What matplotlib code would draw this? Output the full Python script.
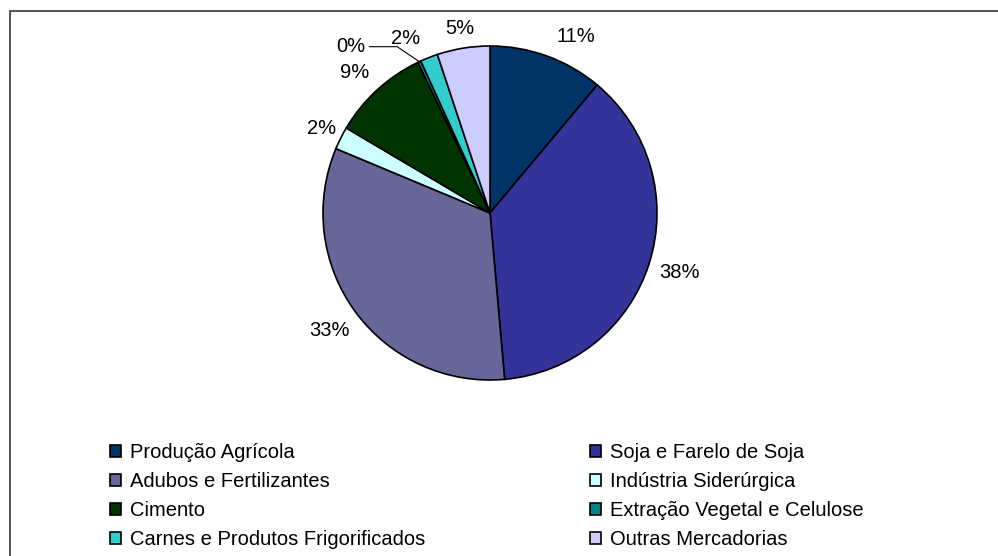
import numpy as np
import matplotlib
matplotlib.use("Agg")
import matplotlib.pyplot as plt
from matplotlib.patches import Rectangle

plt.rcParams['font.family'] = ['Liberation Sans', 'DejaVu Sans']

categorias = ['Produção Agrícola', 'Soja e Farelo de Soja', 'Adubos e Fertilizantes',
              'Indústria Siderúrgica', 'Cimento', 'Extração Vegetal e Celulose',
              'Carnes e Produtos Frigorificados', 'Outras Mercadorias']
valores = [11.1, 37.5, 32.7, 2.2, 9.4, 0.3, 1.7, 5.1]
cores = ['#003366', '#333399', '#666699', '#CCFFFF', '#003300', '#008080', '#33CCCC', '#CCCCFF']

# ajuste dos rotulos: distancia radial e desvio angular (graus)
dist = [1.175, 1.19, 1.19, 1.13, 1.17, 1.30, 1.16, 1.12]
desvio = [6, 0, 0, 0, -1.5, 0, -4.5, 0]

W, H = 998, 556
fig = plt.figure(figsize=(W/100, H/100), dpi=100)

cx, cy, R = 490, 213, 167
ax = fig.add_axes([(cx-R)/W, (H-cy-R)/H, 2*R/W, 2*R/H])
wedges, _ = ax.pie(valores, colors=cores, startangle=90, counterclock=False,
                   wedgeprops=dict(edgecolor='black', linewidth=1.2))
ax.set_xlim(-1, 1)
ax.set_ylim(-1, 1)
ax.set_aspect('equal')
ax.axis('off')

fs = 14.5
total = sum(valores)
acum = np.cumsum([0] + valores)
for i, v in enumerate(valores):
    meio = (acum[i] + v/2) / total * 360.0  # graus, horario a partir do topo
    rot = '%d%%' % round(v/total*100)
    if i == 5:
        ang = np.radians(320)
        lx, ly = dist[i]*np.sin(ang), dist[i]*np.cos(ang)
        ax.annotate(rot, xy=(np.sin(np.radians(meio)), np.cos(np.radians(meio))),
                    xytext=(lx, ly), ha='center', va='center', fontsize=fs,
                    arrowprops=dict(arrowstyle='-', color='black', lw=0.8,
                                    connectionstyle='angle,angleA=0,angleB=146',
                                    shrinkA=1, shrinkB=0))
    else:
        a = np.radians(meio + desvio[i])
        ax.text(dist[i]*np.sin(a), dist[i]*np.cos(a), rot, ha='center', va='center',
                fontsize=fs)

# moldura
fig.patches.append(Rectangle((9.5/W, -0.1), 1.2, (H-11)/H + 0.1, transform=fig.transFigure,
                             fill=False, edgecolor='#333333', linewidth=1.2))

col1 = [0, 2, 4, 6]
col2 = [1, 3, 5, 7]
kw = dict(loc='upper left', frameon=False, fontsize=fs, handlelength=0.55,
          handleheight=0.55, handletextpad=0.45, labelspacing=0.5, borderpad=0,
          borderaxespad=0)
fig.legend([wedges[i] for i in col1], [categorias[i] for i in col1],
           bbox_to_anchor=(110/W, 1-443/H), **kw)
fig.legend([wedges[i] for i in col2], [categorias[i] for i in col2],
           bbox_to_anchor=(590/W, 1-443/H), **kw)

fig.savefig('out.png', dpi=100)
